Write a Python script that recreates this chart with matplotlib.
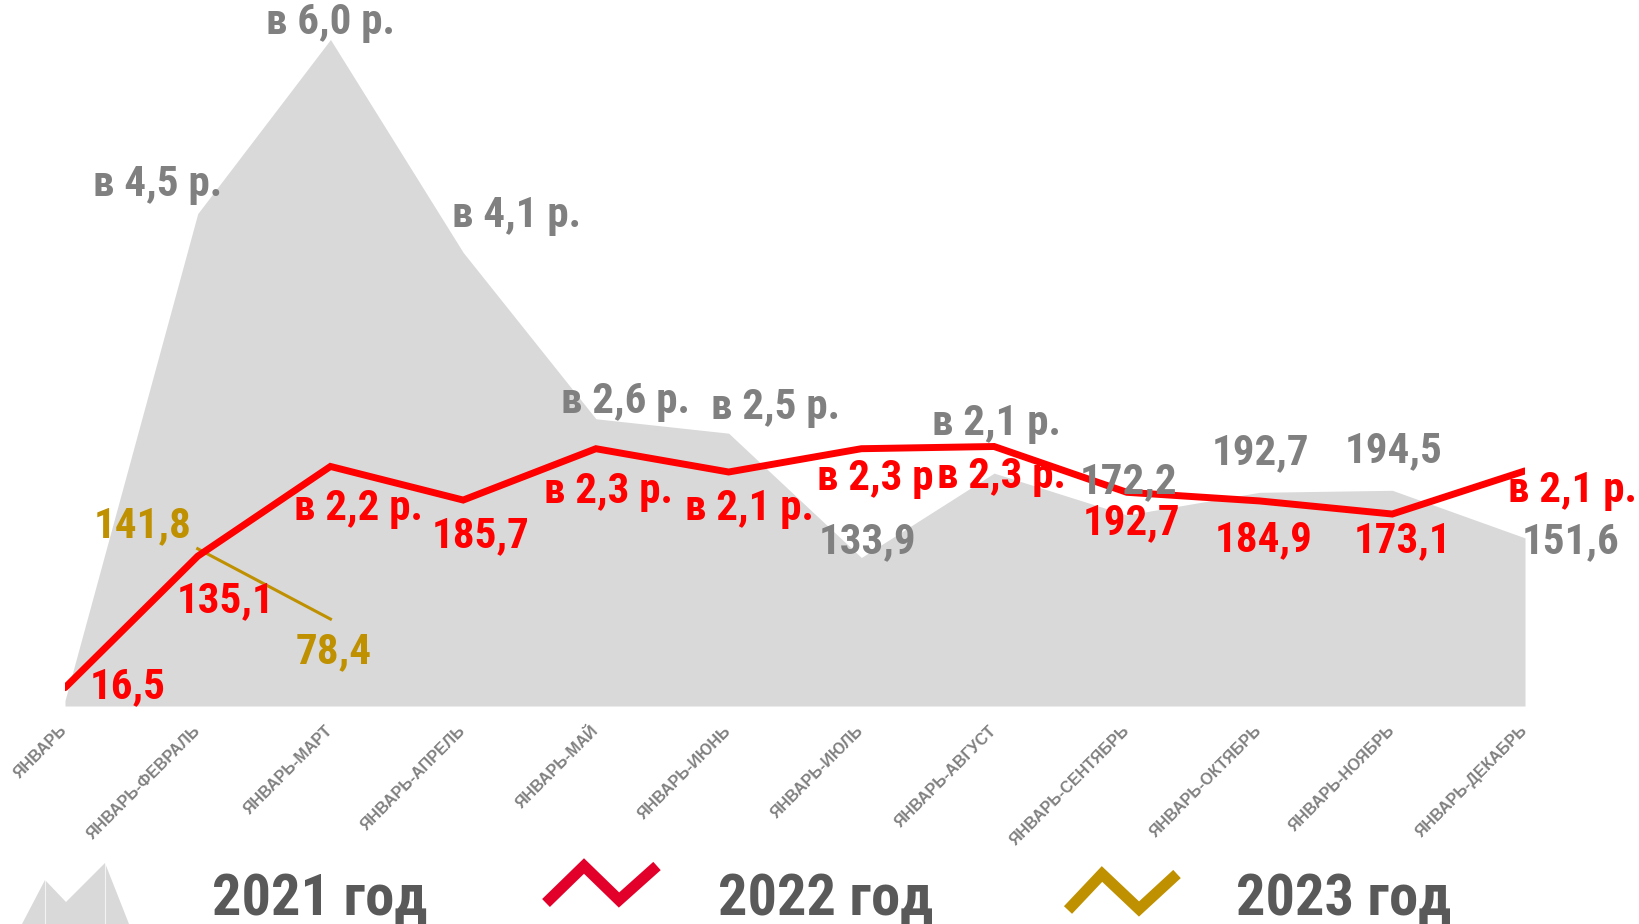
import numpy as np
import matplotlib
matplotlib.use("Agg")
import matplotlib.pyplot as plt
from matplotlib import font_manager as fm
from matplotlib.patches import Polygon
from matplotlib.lines import Line2D

# ---------------- data ----------------
categories = ["ЯНВАРЬ", "ЯНВАРЬ-ФЕВРАЛЬ", "ЯНВАРЬ-МАРТ", "ЯНВАРЬ-АПРЕЛЬ", "ЯНВАРЬ-МАЙ",
              "ЯНВАРЬ-ИЮНЬ", "ЯНВАРЬ-ИЮЛЬ", "ЯНВАРЬ-АВГУСТ", "ЯНВАРЬ-СЕНТЯБРЬ",
              "ЯНВАРЬ-ОКТЯБРЬ", "ЯНВАРЬ-НОЯБРЬ", "ЯНВАРЬ-ДЕКАБРЬ"]
values_2021 = [5, 444, 601, 409, 259, 246, 133.9, 210, 172.2, 192.7, 194.5, 151.6]
values_2022 = [16.5, 135.1, 216, 185.7, 232, 211, 232, 234, 192.7, 184.9, 173.1, 212]
values_2023 = [np.nan, 141.8, 78.4, np.nan, np.nan, np.nan, np.nan, np.nan, np.nan,
               np.nan, np.nan, np.nan]
labels_2021 = ["", "в 4,5 р.", "в 6,0 р.", "в 4,1 р.", "в 2,6 р.", "в 2,5 р.", "133,9",
               "в 2,1 р.", "172,2", "192,7", "194,5", "151,6"]
labels_2022 = ["16,5", "135,1", "в 2,2 р.", "185,7", "в 2,3 р.", "в 2,1 р.", "в 2,3 р",
               "в 2,3 р.", "192,7", "184,9", "173,1", "в 2,1 р."]
labels_2023 = ["", "141,8", "78,4", "", "", "", "", "", "", "", "", ""]
legend_labels = ["2021 год", "2022 год", "2023 год"]

# label offsets in pixels (dx, dy up)
off_2021 = [(0, 0), (-40, 29), (0, 17), (53, 37), (30, 17), (47, 26), (6, 16),
            (2, 50), (2, 33), (1, 40), (1, 40), (46, -4)]
off_2022 = [(63, 1), (28, -44), (28, -42), (17, -36), (13, -43), (21, -36), (14, -30),
            (7, -30), (5, -30), (4, -39), (10, -27), (47, -20)]
off_2023 = [(0, 0), (-55, 23), (3, -33)] + [(0, 0)] * 9

C_AREA = "#D9D9D9"
C_RED = "#FF0000"
C_GOLD = "#BF9000"
C_GRAY = "#808080"
C_LEG = "#595959"

# pick a condensed face if one is installed
installed = {f.name for f in fm.fontManager.ttflist}
narrow = None
for cand in ["Liberation Sans Narrow", "Arial Narrow", "Roboto Condensed",
             "Open Sans Condensed"]:
    if cand in installed:
        narrow = cand
        break
if narrow:
    FONT = [narrow, "Liberation Sans", "DejaVu Sans"]
    LBL_SIZE, LEG_SIZE = 31, 42
else:
    FONT = ["Liberation Sans", "DejaVu Sans"]
    LBL_SIZE, LEG_SIZE = 27, 37
FONT_T = ["Liberation Sans", "DejaVu Sans"]

W, H = 1640, 924
fig = plt.figure(figsize=(W / 100, H / 100), dpi=100)
fig.patch.set_facecolor("white")

# axes placement: x 0..11 -> px 65..1525 ; y 0 at px 706, 1.109 px/unit
x_left, x_right = 65, 1525
y_base = 706
ppu = 1.109
ymax = 630
ax = fig.add_axes([x_left / W, 1 - y_base / H, (x_right - x_left) / W, ymax * ppu / H])
ax.set_xlim(0, 11)
ax.set_ylim(0, ymax)
for s in ax.spines.values():
    s.set_visible(False)
ax.set_yticks([])

x = np.arange(len(categories))
ax.fill_between(x, 0, values_2021, color=C_AREA, linewidth=0, zorder=1)
ax.plot(x, values_2022, color=C_RED, linewidth=5, solid_capstyle="round",
        solid_joinstyle="miter", zorder=3)
ax.plot(x, values_2023, color=C_GOLD, linewidth=2.2, zorder=2)

ax.set_xticks(x)
ax.set_xticklabels(categories, rotation=45, ha="right", va="center",
                   rotation_mode="anchor", fontsize=11.5, color=C_GRAY,
                   fontweight="bold", family=FONT_T)
ax.tick_params(axis="x", length=0, pad=16)

def put(vals, labs, offs, color):
    for i, (v, lab, (dx, dy)) in enumerate(zip(vals, labs, offs)):
        if lab == "" or np.isnan(v):
            continue
        ax.annotate(lab, xy=(i, v), xytext=(dx, dy), textcoords="offset pixels",
                    ha="center", va="center", fontsize=LBL_SIZE, fontweight="bold",
                    color=color, family=FONT, annotation_clip=False, zorder=5)

put(values_2021, labels_2021, off_2021, C_GRAY)
put(values_2022, labels_2022, off_2022, C_RED)
put(values_2023, labels_2023, off_2023, C_GOLD)

# ---------------- legend (drawn in figure pixels) ----------------
def fp(pts):
    return [(px / W, 1 - py / H) for px, py in pts]

area_icon = Polygon(fp([(22, 924), (45, 880), (66, 902), (105, 863), (129, 924)]),
                    closed=True, transform=fig.transFigure, facecolor=C_AREA,
                    edgecolor="none")
fig.add_artist(area_icon)
for vx, vy in [(45, 880), (105, 863)]:
    fig.add_artist(Line2D([vx / W, vx / W], [1 - vy / H, 0], transform=fig.transFigure,
                          color="white", linewidth=0.8, alpha=0.7))

red_pts = fp([(546, 903), (584, 866), (619, 900), (657, 866)])
fig.add_artist(Line2D([p[0] for p in red_pts], [p[1] for p in red_pts],
                      transform=fig.transFigure, color="#E2002B", linewidth=8,
                      solid_joinstyle="miter", solid_capstyle="butt"))
gold_pts = fp([(1068, 910), (1102, 874), (1139, 909), (1177, 874)])
fig.add_artist(Line2D([p[0] for p in gold_pts], [p[1] for p in gold_pts],
                      transform=fig.transFigure, color=C_GOLD, linewidth=8,
                      solid_joinstyle="miter", solid_capstyle="butt"))

for lx, lab in zip([212, 718, 1236], legend_labels):
    fig.text(lx / W, 1 - 915 / H, lab, ha="left", va="baseline", fontsize=LEG_SIZE,
             fontweight="bold", color=C_LEG, family=FONT)

fig.savefig("out.png", dpi=100)
